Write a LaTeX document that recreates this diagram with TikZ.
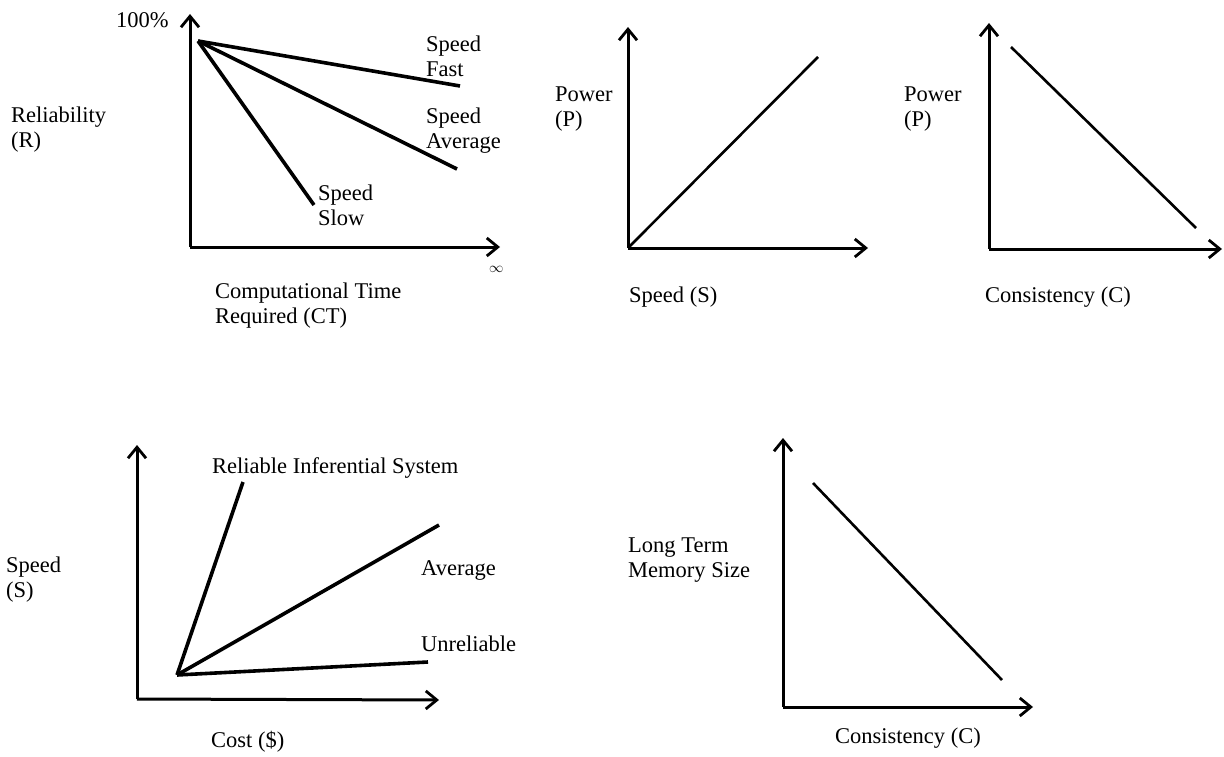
\documentclass[tikz,border=0pt]{standalone}
\usepackage{fontspec}
\setmainfont{Liberation Serif}
\usetikzlibrary{arrows.meta}
\begin{document}
\begin{tikzpicture}[x=1pt,y=-1pt,
  axis/.style={line width=3pt,-{Straight Barb[length=11pt,width=18pt,line width=2.8pt]}},
  curve/.style={line width=2.6pt},
  thick curve/.style={line width=3.6pt},
  lbl/.style={anchor=west,align=left,inner sep=0pt,font=\fontsize{22.5}{25}\selectfont}]
\useasboundingbox (0,0) rectangle (1224,757);
\fill[white] (0,0) rectangle (1224,757);

% ---------- Graph 1 ----------
\coordinate (o1) at (190,247);
\coordinate (y1) at (190,14);
\coordinate (x1) at (500,247);
\coordinate (p1) at (198,41);
\coordinate (fast) at (460,86);
\coordinate (avg1) at (457,169);
\coordinate (slow) at (314,205);
\draw[axis] (o1) -- (y1);
\draw[axis] (o1) -- (x1);
\draw[thick curve] (p1) -- (fast);
\draw[thick curve] (p1) -- (avg1);
\draw[thick curve] (p1) -- (slow);
\node[lbl] (hundred) at (116,20) {100\%};
\node[lbl] (rel) at (11,130) {Reliability\\(R)};
\node[lbl] (sfast) at (426,56) {Speed\\Fast};
\node[lbl] (savg) at (426,131) {Speed\\Average};
\node[lbl] (sslow) at (318,205) {Speed\\Slow};
\node[lbl,font=\fontsize{15}{15}\selectfont] (inf) at (489,269) {$\infty$};
\node[lbl] (ct) at (215,306) {Computational Time\\Required (CT)};

% ---------- Graph 2 ----------
\coordinate (o2) at (628,248);
\coordinate (y2) at (628,27);
\coordinate (x2) at (868,248);
\coordinate (e2) at (818,57);
\draw[axis] (o2) -- (y2);
\draw[axis] (o2) -- (x2);
\draw[curve] (o2) -- (e2);
\node[lbl] (pow2) at (555,109) {Power\\(P)};
\node[lbl] (spd2) at (629,297) {Speed (S)};

% ---------- Graph 3 ----------
\coordinate (o3) at (989,249);
\coordinate (y3) at (989,23);
\coordinate (x3) at (1222,249);
\coordinate (a3) at (1011,47);
\coordinate (b3) at (1196,228);
\draw[axis] (o3) -- (y3);
\draw[axis] (o3) -- (x3);
\draw[curve] (a3) -- (b3);
\node[lbl] (pow3) at (904,109) {Power\\(P)};
\node[lbl] (con3) at (985,297) {Consistency (C)};

% ---------- Graph 4 ----------
\coordinate (o4) at (137,699);
\coordinate (y4) at (137,445);
\coordinate (x4) at (439,700);
\coordinate (p4) at (177,675);
\coordinate (rel4) at (243,482);
\coordinate (avg4) at (439,525);
\coordinate (unr4) at (428,662);
\draw[axis] (o4) -- (y4);
\draw[axis] (o4) -- (x4);
\draw[thick curve] (p4) -- (rel4);
\draw[thick curve] (p4) -- (avg4);
\draw[thick curve] (p4) -- (unr4);
\node[lbl] (ris) at (212,468) {Reliable Inferential System};
\node[lbl] (average) at (421,570) {Average};
\node[lbl] (unrel) at (421,644) {Unreliable};
\node[lbl] (spd4) at (6,580) {Speed\\(S)};
\node[lbl] (cost) at (211,742) {Cost (\$)};

% ---------- Graph 5 ----------
\coordinate (o5) at (783,707);
\coordinate (y5) at (783,438);
\coordinate (x5) at (1033,707);
\coordinate (a5) at (813,483);
\coordinate (b5) at (1002,680);
\draw[axis] (o5) -- (y5);
\draw[axis] (o5) -- (x5);
\draw[curve] (a5) -- (b5);
\node[lbl] (ltm) at (628,560) {Long Term\\Memory Size};
\node[lbl] (con5) at (835,738) {Consistency (C)};
\end{tikzpicture}
\end{document}
